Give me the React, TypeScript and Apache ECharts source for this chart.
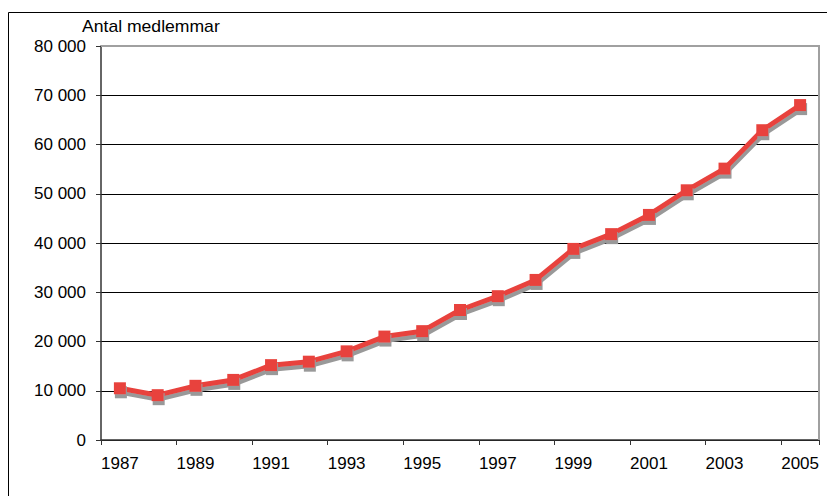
import React, { useEffect, useRef } from "react";
import * as echarts from "echarts";

const years = ["1987","1988","1989","1990","1991","1992","1993","1994","1995","1996","1997","1998","1999","2000","2001","2002","2003","2004","2005"];
const members = [10500, 9100, 11000, 12200, 15200, 15900, 18000, 21000, 22100, 26400, 29200, 32500, 38800, 41800, 45700, 50700, 55100, 62900, 68000];
const yTicks = { min: 0, max: 80000, interval: 10000 };
const unitLabel = "Antal medlemmar";

const RED = "#E8423D";
const SHADOW = "#999999";
const FONT = "Liberation Sans, Arial, sans-serif";

export default function App() {
  const ref = useRef<HTMLDivElement>(null);
  useEffect(() => {
    const chart = echarts.init(ref.current!, null, { renderer: "svg" });
    chart.setOption({
      animation: false,
      backgroundColor: "#ffffff",
      grid: { left: 101, right: 8, top: 46, bottom: 56, show: false },
      graphic: [
        {
          type: "rect",
          shape: { x: 8.5, y: 12.5, width: 1000, height: 1000 },
          style: { fill: "none", stroke: "#000", lineWidth: 1 },
          z: 0,
        },
        {
          type: "polyline",
          shape: { points: [[101, 46], [819, 46], [819, 440]] },
          style: { fill: "none", stroke: "#A0A0A0", lineWidth: 2 },
          z: 10,
        },
        {
          type: "text",
          x: 82,
          y: 19,
          scaleX: 1.1,
          style: { text: unitLabel, font: `16px ${FONT}`, fill: "#000", verticalAlign: "top" },
          z: 5,
        },
      ],
      xAxis: {
        type: "category",
        data: years,
        boundaryGap: true,
        axisLine: { show: true, lineStyle: { color: "#333", width: 1.5 } },
        axisTick: { show: true, length: 5, lineStyle: { color: "#333" } },
        axisLabel: { interval: 1, margin: 15, fontSize: 17, color: "#000", fontFamily: FONT },
        splitLine: { show: false },
      },
      yAxis: {
        type: "value",
        min: yTicks.min,
        max: yTicks.max,
        interval: yTicks.interval,
        axisLine: { show: true, lineStyle: { color: "#333", width: 1.5 } },
        axisTick: { show: true, length: 5, lineStyle: { color: "#333" } },
        axisLabel: {
          margin: 15,
          fontSize: 17,
          color: "#000",
          fontFamily: FONT,
          formatter: (v: number) => String(v).replace(/\B(?=(\d{3})+(?!\d))/g, " "),
        },
        splitLine: { show: true, lineStyle: { color: "#000", width: 1 } },
      },
      series: [
        {
          type: "line",
          data: members,
          symbol: "rect",
          symbolSize: 12,
          lineStyle: {
            color: RED,
            width: 5,
            shadowColor: SHADOW,
            shadowBlur: 0,
            shadowOffsetX: 1,
            shadowOffsetY: 4,
          },
          itemStyle: {
            color: RED,
            shadowColor: SHADOW,
            shadowBlur: 0,
            shadowOffsetX: 1,
            shadowOffsetY: 4,
          },
          z: 3,
        },
      ],
    });
    return () => chart.dispose();
  }, []);
  return (
    <div
      ref={ref}
      style={{ position: "absolute", left: 0, top: 0, width: 827, height: 496 }}
    />
  );
}
